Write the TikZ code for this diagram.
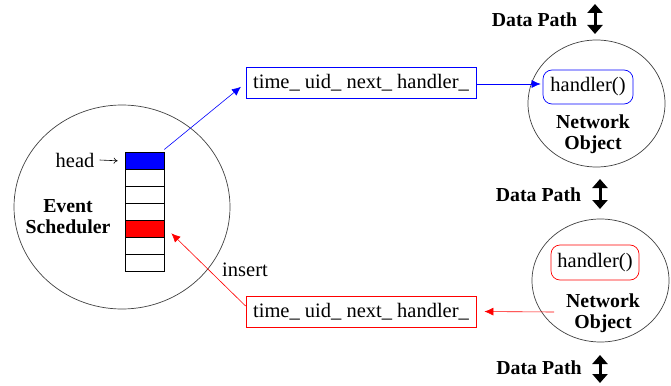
\documentclass[tikz,border=0pt]{standalone}
\usepackage{fontspec}
\setmainfont{Liberation Serif}
\usetikzlibrary{arrows.meta,shapes.geometric,calc}
\begin{document}
\begin{tikzpicture}[x=1pt,y=-1pt,
  every node/.style={font=\fontsize{20.5}{22}\selectfont},
  circ/.style={draw=black!75,line width=0.7pt,ellipse,inner sep=0pt},
  cell/.style={draw=black,line width=0.7pt,minimum width=39pt,minimum height=17pt,inner sep=0pt},
  lbl/.style={font=\fontsize{19.8}{21}\selectfont\bfseries,align=center,inner sep=0pt},
  fieldbox/.style={line width=0.8pt,minimum width=230pt,minimum height=31pt,inner sep=0pt},
  hbox/.style={line width=0.7pt,rounded corners=9pt,minimum height=34pt,inner sep=0pt},
  conn/.style={line width=0.6pt,-{Latex[length=9pt,width=8pt]}},
  dpath/.style={line width=3pt,{Triangle[length=9pt,width=15pt]}-{Triangle[length=9pt,width=15pt]}}]
\useasboundingbox (0,0) rectangle (671,385);

% Event scheduler
\node[circ,minimum width=216pt,minimum height=204pt] (es) at (122,207) {};
\foreach \i/\c in {1/blue,2/white,3/white,4/white,5/red,6/white,7/white}{
  \node[cell,fill=\c] (c\i) at (144.5,{152.3+8.5+17*(\i-1)}) {};
}
\node[inner sep=0pt] (head) at (75,160) {head};
\draw[line width=0.6pt,-{To[length=4pt,width=6pt]}] ($(head.east)+(5,0)$) -- ($(c1.west)+(-7,0)$);
\node[lbl] (esl) at (68,217) {Event\\Scheduler};

% top field box and network object
\node[fieldbox,draw=blue] (tb) at (361,83) {time\_ uid\_ next\_ handler\_};
\node[circ,minimum width=137pt,minimum height=127pt] (no1) at (596.5,103.5) {};
\node[hbox,draw=blue,minimum width=90pt] (h1) at (588,87) {handler()};
\node[lbl] (nol1) at (593,134.5) {Network\\Object};

% bottom field box and network object
\node[fieldbox,draw=red] (bb) at (361,311.5) {time\_ uid\_ next\_ handler\_};
\node[circ,minimum width=137pt,minimum height=123pt] (no2) at (600.5,280.5) {};
\node[hbox,draw=red,minimum width=88pt,minimum height=35pt] (h2) at (595,262.5) {handler()};
\node[lbl] (nol2) at (603,313.5) {Network\\Object};
\coordinate (rs) at (554,312);

% data paths
\node[lbl] (dp1) at (534.5,20) {Data Path};
\coordinate (a1t) at (595,4); \coordinate (a1b) at (595,34);
\draw[dpath] (a1t) -- (a1b);
\node[lbl] (dp2) at (538.5,195) {Data Path};
\coordinate (a2t) at (600,179); \coordinate (a2b) at (600,209);
\draw[dpath] (a2t) -- (a2b);
\node[lbl] (dp3) at (539,368) {Data Path};
\coordinate (a3t) at (600,355); \coordinate (a3b) at (600,383);
\draw[dpath] (a3t) -- (a3b);

% connectors
\draw[conn,blue,shorten >=6pt] ($(c1.north east)+(0,-2.5)$) -- (tb.west);
\draw[conn,blue,shorten >=2pt] ($(tb.east)+(0,1)$) -- ($(tb.east -| h1.west)+(0,1)$);
\draw[conn,red,shorten >=8pt] (rs) -- (bb.east);
\draw[conn,red] ($(bb.west)+(0,-5.5)$) -- ($(c5.east)+(7,4.5)$);
\node[inner sep=0pt] (ins) at (245,270) {insert};
\end{tikzpicture}
\end{document}
